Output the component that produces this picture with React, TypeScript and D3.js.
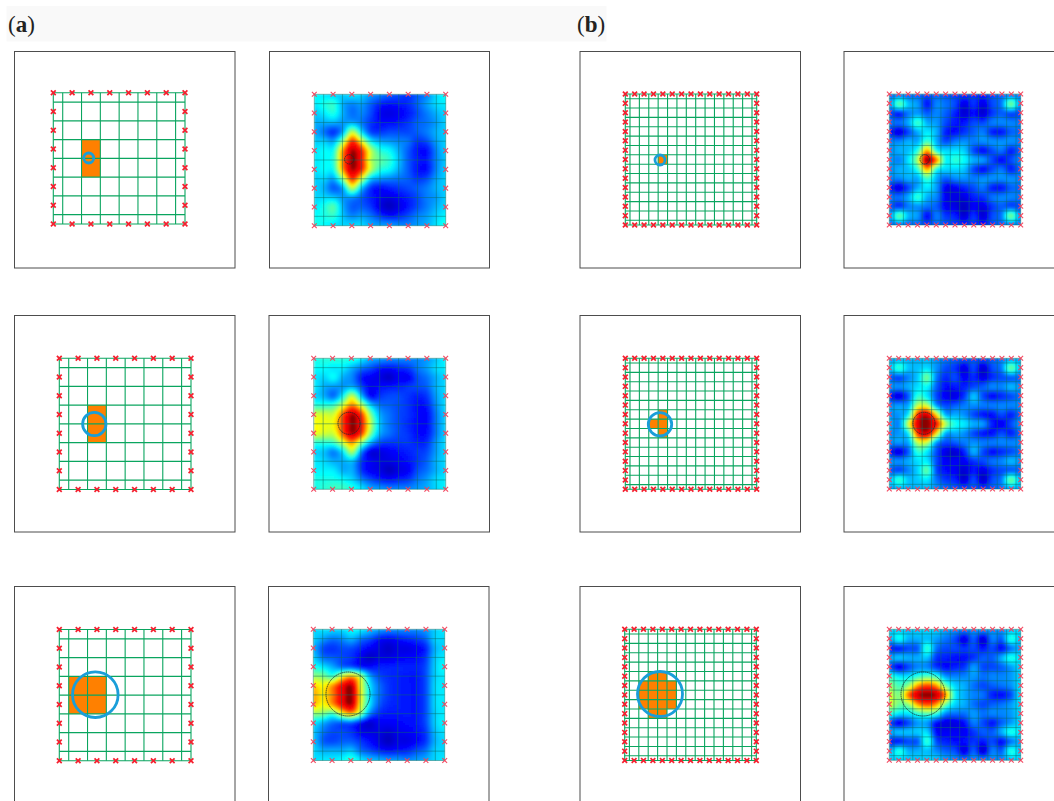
import React, { useMemo } from "react";
import * as d3 from "d3";

// ---------- data ----------
const sensorsA = d3.range(8);
const sensorsB = d3.range(15);
const gridLinesA = [0, 0.5, 1.5, 2.5, 3.5, 4.5, 5.5, 6.5, 7];
const gridLinesB = [0, 0.5, 1.5, 2.5, 3.5, 4.5, 5.5, 6.5, 7.5, 8.5, 9.5, 10.5, 11.5, 12.5, 13.5, 14];

// occupied image cells: [col start, col end, row start, row end] in sensor units
const cellsA1 = [[1.5, 2.5, 2.5, 4.5]];
const cellsA2 = [[1.5, 2.5, 2.5, 4.5]];
const cellsA3 = [[0.5, 2.5, 2.5, 4.5]];
const cellsB1 = [[3.5, 4.5, 6.5, 7.5]];
const cellsB2 = [[3.5, 4.5, 5.5, 8.5], [2.5, 3.5, 6.5, 7.5]];
const cellsB3 = [[1.5, 5.5, 5.5, 8.5], [2.5, 4.5, 4.5, 5.5], [2.5, 4.5, 8.5, 9.5]];

// reconstructed intensity maps (0 - 1 on the jet scale)
const heatA1 = [
  [.38,.36,.34,.33,.35,.33,.28,.25,.22,.2,.18,.22,.26,.34,.38],
  [.36,.4,.42,.3,.26,.28,.22,.16,.14,.15,.17,.22,.28,.34,.36],
  [.33,.36,.4,.3,.24,.26,.2,.12,.1,.12,.15,.2,.25,.3,.34],
  [.3,.3,.3,.28,.3,.25,.18,.14,.14,.15,.18,.22,.24,.28,.33],
  [.3,.24,.18,.3,.56,.36,.2,.18,.2,.2,.2,.22,.25,.3,.33],
  [.33,.33,.3,.52,.82,.62,.38,.3,.28,.26,.24,.18,.2,.28,.33],
  [.36,.38,.4,.72,.98,.84,.56,.42,.38,.3,.22,.15,.14,.25,.33],
  [.36,.38,.42,.74,1.0,.86,.56,.47,.42,.32,.22,.16,.15,.25,.32],
  [.36,.38,.4,.72,.98,.84,.56,.42,.38,.3,.22,.15,.14,.25,.33],
  [.33,.34,.3,.52,.82,.6,.34,.28,.26,.24,.22,.18,.2,.28,.33],
  [.34,.3,.22,.3,.56,.33,.18,.14,.16,.18,.2,.22,.25,.3,.33],
  [.34,.34,.32,.28,.28,.22,.16,.12,.1,.13,.16,.2,.25,.28,.33],
  [.36,.4,.45,.3,.22,.22,.18,.1,.06,.1,.15,.2,.25,.3,.34],
  [.38,.4,.42,.32,.26,.28,.24,.18,.14,.16,.2,.25,.28,.33,.37],
  [.4,.38,.36,.34,.34,.34,.3,.28,.28,.26,.26,.28,.3,.35,.4],
];
const heatA2 = [
  [.4,.41,.42,.41,.41,.36,.3,.28,.26,.26,.26,.26,.28,.32,.37],
  [.38,.38,.36,.36,.3,.24,.2,.15,.14,.16,.18,.24,.28,.34,.36],
  [.36,.34,.38,.3,.26,.15,.12,.1,.07,.12,.12,.2,.24,.3,.34],
  [.36,.3,.28,.28,.3,.2,.12,.14,.15,.16,.18,.2,.22,.3,.34],
  [.34,.3,.24,.38,.56,.32,.14,.18,.2,.2,.18,.16,.18,.28,.34],
  [.42,.42,.44,.58,.74,.58,.34,.24,.22,.2,.18,.14,.15,.26,.34],
  [.58,.58,.58,.78,.98,.82,.5,.3,.24,.2,.18,.14,.13,.24,.33],
  [.62,.6,.62,.8,1.0,.86,.56,.32,.24,.2,.17,.14,.13,.24,.33],
  [.6,.58,.58,.78,.98,.82,.5,.3,.24,.2,.18,.14,.14,.24,.33],
  [.42,.42,.44,.58,.72,.52,.3,.2,.18,.18,.18,.16,.17,.27,.34],
  [.34,.32,.26,.36,.54,.26,.1,.1,.12,.14,.16,.18,.2,.28,.34],
  [.36,.34,.3,.3,.32,.18,.12,.1,.1,.12,.14,.18,.22,.3,.34],
  [.37,.37,.36,.3,.3,.18,.12,.1,.06,.1,.12,.2,.24,.3,.34],
  [.4,.4,.4,.38,.34,.26,.2,.16,.14,.16,.18,.24,.28,.34,.36],
  [.4,.42,.44,.44,.41,.36,.3,.28,.26,.26,.26,.28,.3,.34,.37],
];
const heatA3 = [
  [.34,.35,.34,.34,.38,.36,.32,.28,.26,.26,.26,.26,.28,.33,.36],
  [.33,.28,.24,.26,.3,.24,.2,.14,.12,.14,.16,.18,.22,.33,.34],
  [.3,.2,.18,.2,.2,.16,.12,.1,.07,.1,.1,.12,.16,.3,.34],
  [.33,.24,.22,.2,.18,.12,.07,.1,.1,.12,.13,.14,.18,.32,.36],
  [.4,.36,.3,.24,.22,.16,.14,.16,.16,.16,.16,.16,.2,.33,.38],
  [.52,.5,.44,.6,.7,.56,.3,.2,.17,.16,.15,.15,.2,.33,.36],
  [.66,.62,.72,.88,.98,.62,.36,.24,.18,.16,.15,.15,.2,.34,.36],
  [.7,.64,.74,.9,1.0,.64,.36,.24,.18,.16,.15,.15,.2,.34,.36],
  [.68,.62,.72,.88,.98,.62,.36,.22,.17,.16,.15,.15,.2,.34,.36],
  [.52,.5,.44,.6,.7,.52,.26,.17,.15,.15,.15,.15,.2,.33,.36],
  [.36,.3,.24,.22,.22,.14,.08,.12,.12,.13,.14,.15,.2,.33,.37],
  [.32,.24,.2,.2,.18,.12,.1,.1,.08,.11,.12,.14,.18,.31,.35],
  [.32,.22,.2,.22,.22,.18,.14,.1,.06,.1,.1,.13,.18,.3,.34],
  [.34,.3,.3,.3,.32,.24,.2,.16,.14,.15,.16,.2,.24,.33,.34],
  [.35,.36,.36,.38,.42,.36,.32,.3,.28,.28,.26,.28,.3,.34,.36],
];
const heatB1 = [
  [.23,.25,.23,.23,.2,.23,.21,.19,.18,.18,.16,.2,.23,.25,.25],
  [.28,.46,.32,.28,.15,.26,.24,.2,.1,.18,.1,.2,.25,.48,.28],
  [.2,.16,.25,.28,.22,.26,.22,.16,.08,.14,.08,.18,.22,.2,.2],
  [.25,.24,.3,.43,.3,.28,.2,.15,.15,.2,.2,.25,.26,.26,.25],
  [.16,.1,.2,.3,.36,.3,.16,.14,.18,.22,.25,.16,.15,.22,.23],
  [.26,.26,.3,.3,.44,.3,.2,.25,.27,.25,.27,.27,.27,.27,.26],
  [.27,.3,.32,.42,.7,.4,.34,.35,.33,.2,.14,.2,.24,.16,.23],
  [.28,.26,.36,.55,1.0,.74,.38,.42,.38,.3,.28,.2,.14,.2,.26],
  [.27,.3,.32,.42,.7,.4,.34,.34,.32,.2,.14,.2,.24,.16,.23],
  [.26,.26,.3,.3,.44,.3,.22,.26,.27,.25,.27,.27,.27,.27,.26],
  [.16,.1,.2,.3,.36,.28,.12,.12,.16,.2,.24,.16,.15,.22,.23],
  [.25,.24,.3,.42,.3,.26,.12,.1,.1,.16,.18,.24,.26,.26,.25],
  [.22,.18,.25,.27,.24,.22,.12,.1,.06,.12,.1,.18,.22,.2,.2],
  [.28,.46,.31,.28,.14,.25,.18,.16,.08,.18,.08,.2,.25,.48,.28],
  [.23,.25,.23,.23,.2,.23,.21,.19,.18,.18,.16,.2,.23,.25,.25],
];
const heatB2 = [
  [.28,.3,.3,.3,.31,.27,.24,.22,.21,.21,.2,.22,.25,.29,.29],
  [.32,.42,.32,.32,.35,.27,.2,.18,.1,.2,.08,.2,.25,.47,.32],
  [.22,.2,.26,.33,.48,.25,.17,.2,.12,.17,.1,.17,.2,.22,.23],
  [.28,.27,.3,.35,.38,.22,.14,.15,.16,.2,.22,.26,.26,.31,.28],
  [.15,.1,.22,.42,.36,.2,.12,.1,.18,.32,.2,.14,.17,.2,.24],
  [.27,.28,.3,.56,.56,.28,.2,.22,.25,.27,.25,.25,.26,.26,.27],
  [.27,.28,.38,.84,.94,.64,.3,.3,.27,.2,.15,.14,.2,.16,.23],
  [.3,.27,.58,.94,1.0,.86,.54,.4,.36,.3,.28,.16,.12,.2,.28],
  [.27,.28,.38,.84,.94,.64,.3,.3,.27,.2,.15,.14,.2,.16,.23],
  [.27,.28,.3,.56,.56,.28,.2,.22,.25,.27,.25,.25,.26,.26,.27],
  [.15,.1,.22,.42,.36,.2,.1,.08,.16,.3,.2,.14,.17,.2,.24],
  [.28,.27,.3,.35,.36,.2,.12,.12,.12,.18,.2,.24,.26,.31,.28],
  [.22,.2,.26,.34,.46,.2,.14,.12,.08,.15,.1,.17,.2,.22,.23],
  [.32,.42,.32,.33,.36,.24,.18,.16,.08,.2,.07,.2,.25,.47,.32],
  [.28,.3,.3,.3,.31,.27,.24,.22,.21,.21,.2,.22,.25,.29,.29],
];
const heatB3 = [
  [.33,.33,.32,.33,.34,.33,.29,.27,.25,.27,.27,.27,.27,.32,.34],
  [.3,.38,.3,.3,.32,.28,.24,.2,.1,.22,.08,.25,.22,.4,.32],
  [.16,.16,.2,.22,.42,.24,.2,.2,.18,.2,.15,.2,.14,.24,.3],
  [.3,.32,.3,.3,.32,.18,.16,.14,.14,.18,.22,.22,.3,.4,.35],
  [.2,.12,.2,.26,.26,.18,.14,.16,.18,.28,.2,.2,.22,.28,.34],
  [.42,.36,.36,.42,.46,.42,.28,.26,.26,.28,.24,.26,.26,.28,.34],
  [.52,.44,.52,.72,.8,.72,.48,.34,.3,.24,.2,.22,.24,.27,.35],
  [.58,.5,.76,.96,1.0,.96,.72,.38,.3,.26,.24,.16,.14,.2,.36],
  [.58,.48,.52,.72,.8,.72,.48,.34,.3,.24,.2,.22,.24,.28,.35],
  [.42,.36,.36,.42,.46,.42,.26,.24,.24,.28,.24,.26,.26,.28,.34],
  [.2,.12,.2,.28,.28,.14,.1,.1,.14,.25,.2,.15,.22,.28,.34],
  [.3,.32,.32,.33,.34,.14,.12,.12,.12,.18,.22,.22,.3,.4,.35],
  [.16,.16,.2,.22,.42,.2,.16,.14,.14,.18,.15,.2,.14,.24,.3],
  [.3,.4,.3,.3,.32,.26,.22,.2,.1,.22,.08,.25,.22,.4,.32],
  [.33,.33,.33,.33,.34,.33,.29,.27,.25,.27,.27,.27,.27,.32,.34],
];

// ---------- layout ----------
const W = 1054, H = 801;
const jet = d3.scaleLinear<string>()
  .domain([0, 0.13, 0.38, 0.62, 0.84, 0.94, 1])
  .range(["#00008f", "#0000ff", "#00ffff", "#ffff00", "#ff1000", "#f00000", "#8a0000"])
  .clamp(true);

const leftPanels = [
  { id: "a1", box: [14.5, 51.5, 235, 268], g: [53.3, 92.7, 185, 224], n: 7, lines: gridLinesA, s: sensorsA, cells: cellsA1, c: [88.7, 158, 5] },
  { id: "a2", box: [14.5, 315.5, 235, 532], g: [59.3, 358.3, 191, 489.5], n: 7, lines: gridLinesA, s: sensorsA, cells: cellsA2, c: [94.3, 424, 11.7] },
  { id: "a3", box: [14.5, 586.5, 235, 803], g: [59.3, 629.5, 191, 760.7], n: 7, lines: gridLinesA, s: sensorsA, cells: cellsA3, c: [95.3, 694.7, 22.8] },
  { id: "b1", box: [580, 51.5, 800.5, 268], g: [625.3, 94, 756.7, 225], n: 14, lines: gridLinesB, s: sensorsB, cells: cellsB1, c: [660, 160, 5] },
  { id: "b2", box: [580, 315.5, 800.5, 532], g: [625.3, 358.3, 756.7, 489.3], n: 14, lines: gridLinesB, s: sensorsB, cells: cellsB2, c: [660, 424.3, 11.7] },
  { id: "b3", box: [580, 586.5, 800.5, 803], g: [624.7, 629.3, 756.3, 760.5], n: 14, lines: gridLinesB, s: sensorsB, cells: cellsB3, c: [660, 694, 22.5] },
];
const rightPanels = [
  { id: "ha1", box: [269.5, 51.5, 489.5, 268], g: [314.3, 94.3, 445.7, 225.7], n: 7, lines: gridLinesA, s: sensorsA, heat: heatA1, c: [349.3, 159.3, 4.7] },
  { id: "ha2", box: [269, 315.5, 489.5, 532], g: [313.7, 358.3, 445.7, 489.3], n: 7, lines: gridLinesA, s: sensorsA, heat: heatA2, c: [349, 423.3, 11] },
  { id: "ha3", box: [268.5, 586.5, 489, 803], g: [313.3, 629.3, 444.7, 760.5], n: 7, lines: gridLinesA, s: sensorsA, heat: heatA3, c: [348, 694, 22] },
  { id: "hb1", box: [844, 51.5, 1064, 268], g: [889.3, 94, 1020.7, 225], n: 14, lines: gridLinesB, s: sensorsB, heat: heatB1, c: [924.7, 159.3, 4.7] },
  { id: "hb2", box: [844, 315.5, 1064, 532], g: [889.3, 358.3, 1020.7, 489], n: 14, lines: gridLinesB, s: sensorsB, heat: heatB2, c: [924, 423.3, 11] },
  { id: "hb3", box: [844, 586.5, 1064, 803], g: [889.3, 629.3, 1020.7, 760.3], n: 14, lines: gridLinesB, s: sensorsB, heat: heatB3, c: [923, 694, 22] },
];

const X_MARK = "M-2.4,-2.4L2.4,2.4M-2.4,2.4L2.4,-2.4";

function catmull(p0: number, p1: number, p2: number, p3: number, t: number) {
  return 0.5 * (2 * p1 + (p2 - p0) * t + (2 * p0 - 5 * p1 + 4 * p2 - p3) * t * t + (3 * p1 - p0 - 3 * p2 + p3) * t * t * t);
}
function sample(m: number[][], u: number, v: number) {
  const n = m.length - 1;
  const at = (j: number, i: number) => m[Math.max(0, Math.min(n, j))][Math.max(0, Math.min(n, i))];
  const fu = Math.min(n - 1e-6, u * n), fv = Math.min(n - 1e-6, v * n);
  const i = Math.floor(fu), j = Math.floor(fv);
  const row = (jj: number) => catmull(at(jj, i - 1), at(jj, i), at(jj, i + 1), at(jj, i + 2), fu - i);
  return catmull(row(j - 1), row(j), row(j + 1), row(j + 2), fv - j);
}

function Sensors({ x, y, s, color, width, opacity }: any) {
  const max = s[s.length - 1];
  const pts: [number, number][] = [];
  s.forEach((i: number) => { pts.push([i, 0]); pts.push([i, max]); });
  s.slice(1, -1).forEach((j: number) => { pts.push([0, j]); pts.push([max, j]); });
  return (
    <g stroke={color} strokeWidth={width} strokeOpacity={opacity} fill="none">
      {pts.map(([a, b], k) => <path key={k} d={X_MARK} transform={`translate(${x(a)},${y(b)})`} />)}
    </g>
  );
}

function Grid({ x, y, lines, color, width, opacity }: any) {
  const [x0, x1] = x.range();
  const [y0, y1] = y.range();
  return (
    <g stroke={color} strokeWidth={width} strokeOpacity={opacity}>
      {lines.map((l: number, i: number) => <line key={"v" + i} x1={x(l)} x2={x(l)} y1={y0} y2={y1} />)}
      {lines.map((l: number, i: number) => <line key={"h" + i} x1={x0} x2={x1} y1={y(l)} y2={y(l)} />)}
    </g>
  );
}

function LayoutPanel({ p }: any) {
  const x = d3.scaleLinear().domain([0, p.n]).range([p.g[0], p.g[2]]);
  const y = d3.scaleLinear().domain([0, p.n]).range([p.g[1], p.g[3]]);
  return (
    <g>
      <rect x={p.box[0]} y={p.box[1]} width={p.box[2] - p.box[0]} height={p.box[3] - p.box[1]} fill="#fff" stroke="#4d4d4d" strokeWidth={1} />
      {p.cells.map((c: number[], i: number) => (
        <rect key={i} x={x(c[0])} y={y(c[2])} width={x(c[1]) - x(c[0])} height={y(c[3]) - y(c[2])} fill="#ff8000" />
      ))}
      <Grid x={x} y={y} lines={p.lines} color="#0aa55f" width={1.1} opacity={1} />
      <circle cx={p.c[0]} cy={p.c[1]} r={p.c[2]} fill="none" stroke="#1a9ed9" strokeWidth={2.8} />
      <Sensors x={x} y={y} s={p.s} color="#f5202f" width={1.7} opacity={1} />
    </g>
  );
}

function HeatPanel({ p }: any) {
  const x = d3.scaleLinear().domain([0, p.n]).range([p.g[0], p.g[2]]);
  const y = d3.scaleLinear().domain([0, p.n]).range([p.g[1], p.g[3]]);
  const STEP = 2;
  const cols = d3.range(Math.ceil((p.g[2] - p.g[0]) / STEP));
  const rows = d3.range(Math.ceil((p.g[3] - p.g[1]) / STEP));
  const u = d3.scaleLinear().domain([0, cols.length - 1]).range([0, 1]);
  const v = d3.scaleLinear().domain([0, rows.length - 1]).range([0, 1]);
  const cells = useMemo(() => {
    const out: any[] = [];
    rows.forEach((r) => cols.forEach((c) => out.push({ c, r, f: jet(sample(p.heat, u(c), v(r))) })));
    return out;
  }, []);
  return (
    <g>
      <rect x={p.box[0]} y={p.box[1]} width={p.box[2] - p.box[0]} height={p.box[3] - p.box[1]} fill="#fff" stroke="#4d4d4d" strokeWidth={1} />
      <clipPath id={"clip-" + p.id}>
        <rect x={p.g[0]} y={p.g[1]} width={p.g[2] - p.g[0]} height={p.g[3] - p.g[1]} />
      </clipPath>
      <g clipPath={`url(#clip-${p.id})`}>
        <g filter="url(#soft)" shapeRendering="crispEdges">
          {cells.map((d, i) => (
            <rect key={i} x={p.g[0] + d.c * STEP} y={p.g[1] + d.r * STEP} width={STEP + 0.5} height={STEP + 0.5} fill={d.f} />
          ))}
        </g>
      </g>
      <Grid x={x} y={y} lines={p.lines} color="#0a6e62" width={0.8} opacity={0.6} />
      <circle cx={p.c[0]} cy={p.c[1]} r={p.c[2]} fill="none" stroke="#1c2b2b" strokeWidth={0.8} strokeDasharray="1.6 0.5" />
      <Sensors x={x} y={y} s={p.s} color="#f2405a" width={1.1} opacity={0.95} />
    </g>
  );
}

export default function App() {
  return (
    <svg width={W} height={H} viewBox={`0 0 ${W} ${H}`} style={{ position: "absolute", left: 0, top: 0, display: "block", background: "#fff" }}>
      <defs>
        <filter id="soft" x="-5%" y="-5%" width="110%" height="110%">
          <feGaussianBlur stdDeviation="1.1" />
        </filter>
      </defs>
      <rect x={6.5} y={6} width={600} height={35.5} fill="#f9f9f9" />
      <text x={8} y={32} fontFamily="'Liberation Serif', serif" fontSize={23} fill="#222">
        (<tspan fontWeight="bold">a</tspan>)
      </text>
      <text x={577} y={32} fontFamily="'Liberation Serif', serif" fontSize={23} fill="#222">
        (<tspan fontWeight="bold">b</tspan>)
      </text>
      {leftPanels.map((p) => <LayoutPanel key={p.id} p={p} />)}
      {rightPanels.map((p) => <HeatPanel key={p.id} p={p} />)}
    </svg>
  );
}
